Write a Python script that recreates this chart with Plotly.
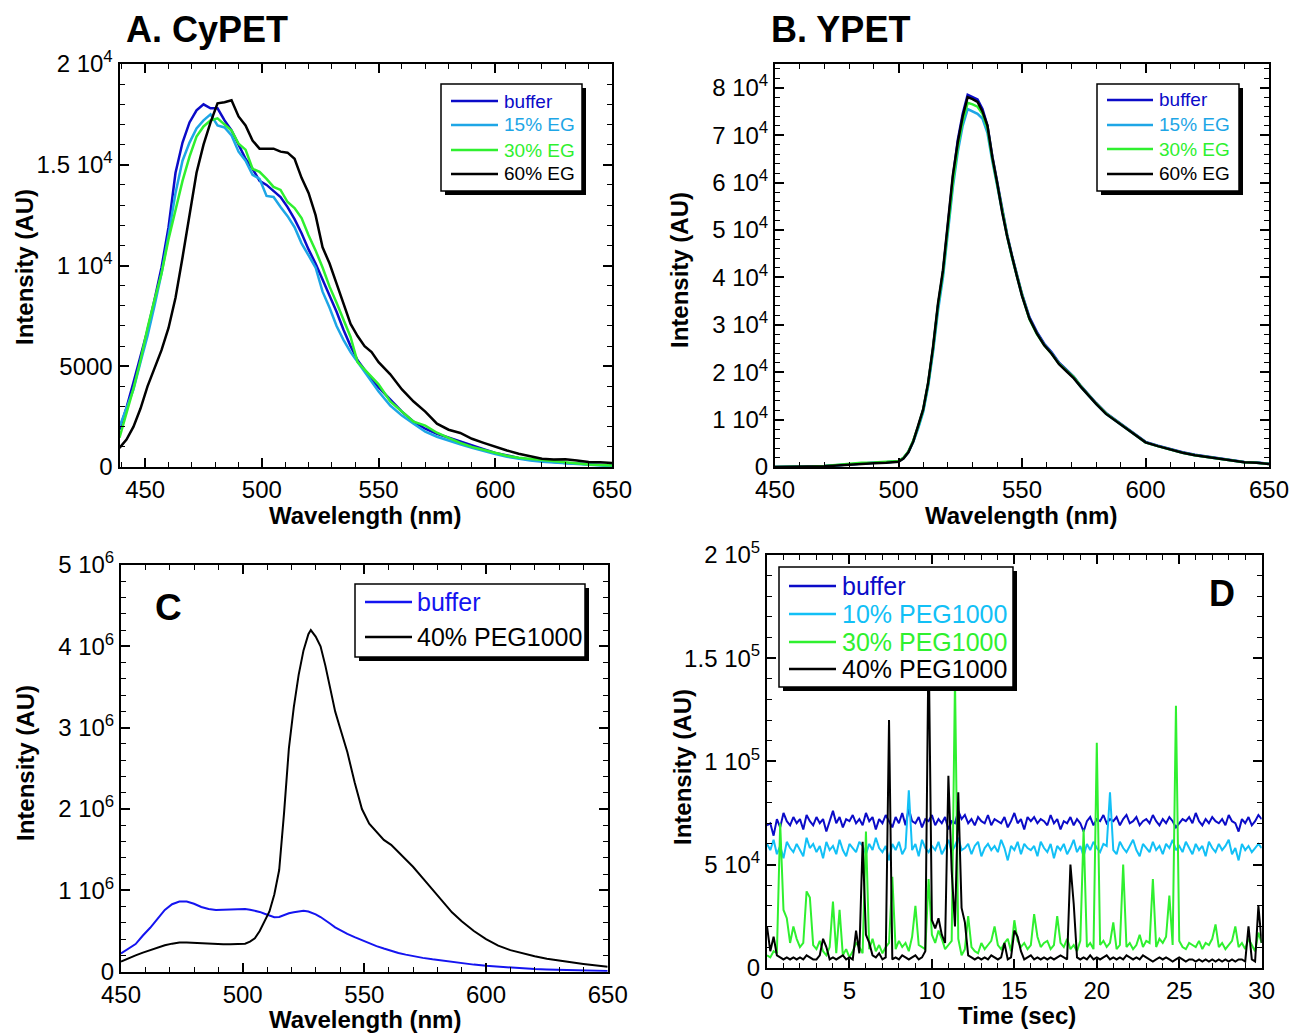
import numpy as np
import plotly.graph_objects as go

# ---------------- data ----------------
# A. CyPET emission spectra
wl_a = [439, 442, 445, 448, 451, 454, 457, 460, 463, 466, 469, 472, 475, 478, 481, 484, 487, 490,
        493, 496, 499, 502, 505, 508, 511, 514, 517, 520, 523, 526, 529, 532, 535, 538, 541, 544,
        547, 550, 555, 560, 565, 570, 575, 580, 585, 590, 595, 600, 605, 610, 615, 620, 625, 630,
        635, 640, 645, 650]
cypet_buffer = [1850, 2950, 4200, 5500, 6800, 8300, 9900, 11900, 14600, 16100, 17100, 17700, 18000,
                17800, 17800, 17200, 16700, 16000, 15300, 14800, 14200, 14000, 13700, 13400, 12900,
                12300, 11600, 10800, 10100, 9300, 8500, 7700, 6800, 6000, 5300, 4800, 4350, 3950,
                3350, 2750, 2250, 1900, 1650, 1450, 1250, 1050, 880, 700, 560, 450, 360, 300, 250,
                200, 170, 130, 100, 70]
cypet_eg15 = [2000, 2950, 3850, 5200, 6500, 8000, 9600, 11500, 13600, 15200, 16100, 16800, 17200,
              17500, 16950, 16850, 16450, 15650, 15200, 14500, 14300, 13450, 13400, 12900, 12450,
              11900, 11100, 10500, 9900, 8700, 7900, 7000, 6300, 5700, 5200, 4700, 4200, 3750,
              3050, 2550, 2150, 1750, 1500, 1300, 1130, 950, 790, 640, 510, 400, 320, 260, 220,
              190, 150, 110, 70, 40]
cypet_eg30 = [1450, 2700, 3900, 5300, 6900, 8300, 9600, 11300, 12800, 14200, 15400, 16400, 16900,
              17200, 17300, 17000, 16700, 16050, 15750, 14800, 14650, 14300, 13900, 13750, 13150,
              12850, 12350, 11500, 10750, 9900, 8950, 8150, 7300, 6450, 5200, 4850, 4450, 4100,
              3250, 2750, 2250, 2050, 1700, 1450, 1200, 1000, 850, 680, 560, 460, 400, 360, 290,
              230, 170, 130, 100, 70]
cypet_eg60 = [950, 1360, 2000, 2900, 4000, 4900, 5800, 6900, 8400, 10400, 12600, 14600, 16000,
              17100, 18050, 18100, 18200, 17400, 16950, 16200, 15800, 15800, 15800, 15650, 15600,
              15300, 14350, 13600, 12500, 10900, 10100, 9100, 8100, 7100, 6500, 6000, 5700, 5200,
              4600, 3850, 3250, 2750, 2150, 1850, 1690, 1400, 1200, 1000, 820, 660, 530, 410, 370,
              380, 320, 250, 230, 200]

# B. YPET emission spectra
wl_b = [450, 455, 460, 465, 470, 475, 480, 485, 490, 495, 500, 502, 504, 506, 508, 510, 512, 514,
        516, 518, 520, 522, 524, 526, 528, 530, 532, 534, 536, 538, 540, 542, 544, 546, 548, 550,
        553, 556, 559, 562, 565, 568, 571, 574, 577, 580, 584, 588, 592, 596, 600, 605, 610, 615,
        620, 625, 630, 635, 640, 645, 650]
ypet_buffer = [0, 0, 50, 100, 200, 400, 600, 850, 900, 1000, 1200, 1900, 3200, 5500, 8500, 12000,
               17500, 25000, 34000, 41000, 51000, 61000, 69000, 74500, 78500, 78000, 77500, 75500,
               72000, 65500, 60000, 54000, 49000, 44500, 40500, 36500, 31600, 28500, 26000, 24200,
               22000, 20500, 19000, 17000, 15200, 13500, 11400, 9900, 8300, 6800, 5300, 4500, 3800,
               3100, 2600, 2200, 1800, 1400, 1050, 950, 700]
ypet_eg15 = [0, 0, 40, 90, 180, 380, 580, 820, 880, 980, 1150, 1850, 3100, 5300, 8200, 11600,
             17000, 24300, 33000, 40000, 49500, 59000, 66500, 72000, 75500, 75000, 74500, 73500,
             70500, 64500, 59300, 53500, 48600, 44100, 40200, 36200, 31300, 28200, 25800, 24000,
             21800, 20300, 18800, 16800, 15000, 13300, 11200, 9700, 8200, 6700, 5200, 4400, 3700,
             3000, 2500, 2100, 1700, 1300, 1000, 900, 650]
ypet_eg30 = [0, 0, 60, 120, 230, 450, 650, 900, 950, 1050, 1250, 1950, 3250, 5600, 8600, 12100,
             17600, 25100, 34100, 41000, 50500, 60000, 67500, 73000, 76800, 76500, 76000, 74500,
             71500, 65000, 59600, 53800, 48700, 44200, 40300, 36300, 31200, 28100, 25700, 23900,
             21800, 20300, 18900, 16900, 15100, 13400, 11300, 9800, 8200, 6700, 5200, 4400, 3700,
             3000, 2500, 2100, 1700, 1300, 1000, 900, 650]
ypet_eg60 = [0, 0, 30, 80, 150, 300, 500, 700, 800, 900, 1100, 1800, 3100, 5400, 8600, 12200,
             17800, 25400, 34500, 41500, 51500, 61500, 68500, 74000, 78000, 77600, 77000, 75000,
             72000, 65300, 59800, 53700, 48600, 44100, 40100, 36100, 31300, 28200, 25700, 23900,
             21700, 20200, 18700, 16800, 15000, 13300, 11200, 9700, 8100, 6600, 5200, 4400, 3700,
             3000, 2500, 2100, 1700, 1300, 1000, 900, 650]

# C. spectra with PEG1000
wl_c = [450, 453, 456, 459, 462, 465, 468, 471, 474, 477, 480, 483, 486, 489, 492, 495, 498, 501,
        503, 505, 507, 509, 511, 513, 515, 517, 519, 521, 523, 525, 527, 528, 530, 532, 534, 536,
        538, 540, 543, 546, 549, 552, 555, 558, 561, 564, 567, 570, 574, 578, 582, 586, 590, 595,
        600, 605, 610, 615, 620, 625, 630, 635, 640, 645, 650]
c_buffer = [225000, 280000, 340000, 445000, 540000, 650000, 760000, 830000, 862000, 862000, 835000,
            795000, 770000, 758000, 760000, 765000, 768000, 770000, 762000, 752000, 735000, 712000,
            690000, 670000, 672000, 700000, 718000, 730000, 740000, 748000, 740000, 730000, 705000,
            672000, 635000, 590000, 545000, 510000, 465000, 425000, 385000, 350000, 315000, 285000,
            255000, 230000, 210000, 190000, 170000, 152000, 135000, 118000, 102000, 87000, 72000,
            60000, 51000, 42000, 33000, 27000, 22000, 17000, 12000, 10000, 8000]
c_peg40 = [123000, 165000, 200000, 235000, 265000, 295000, 325000, 345000, 360000, 360000, 355000,
           345000, 337000, 336000, 336000, 336000, 336000, 345000, 370000, 410000, 500000, 620000,
           740000, 950000, 1250000, 1950000, 2750000, 3250000, 3650000, 3950000, 4150000, 4200000,
           4120000, 4000000, 3760000, 3480000, 3200000, 3000000, 2700000, 2330000, 2000000,
           1820000, 1720000, 1620000, 1560000, 1470000, 1380000, 1290000, 1150000, 1010000,
           860000, 730000, 620000, 500000, 400000, 320000, 265000, 225000, 190000, 160000,
           135000, 115000, 95000, 78000, 60000]

# D. time traces (0.2 s steps, values in 10^3 AU)
time_d = np.round(np.arange(0, 30.01, 0.2), 1)
d_buffer_k = [69, 70, 64, 72, 68, 75, 71, 69, 73, 70,
              72, 67, 74, 71, 69, 73, 70, 72, 66, 71,
              76, 70, 73, 68, 72, 71, 74, 70, 72, 69,
              75, 71, 73, 67, 72, 70, 74, 71, 68, 73,
              70, 75, 69, 77, 71, 70, 73, 68, 72, 71,
              74, 69, 72, 70, 73, 67, 71, 70, 76, 72,
              74, 70, 72, 69, 73, 71, 70, 74, 69, 72,
              71, 70, 73, 68, 71, 75, 70, 72, 67, 73,
              71, 73, 70, 72, 71, 69, 74, 70, 72, 67,
              71, 70, 73, 69, 72, 70, 66, 71, 73, 69,
              72, 71, 74, 70, 72, 71, 73, 69, 72, 74,
              70, 71, 73, 69, 71, 72, 70, 74, 71, 69,
              72, 70, 73, 71, 68, 70, 72, 71, 73, 70,
              75, 71, 69, 72, 70, 73, 71, 70, 72, 69,
              74, 71, 70, 66, 72, 70, 73, 69, 71, 74,
              72]
d_peg10_k = [60, 57, 62, 55, 59, 53, 61, 58, 56, 60,
             57, 54, 63, 58, 60, 56, 59, 53, 61, 57,
             59, 55, 62, 57, 54, 60, 58, 56, 61, 59,
             55, 60, 57, 63, 58, 56, 59, 52, 60, 57,
             61, 55, 58, 86, 57, 60, 54, 62, 58, 56,
             59, 57, 61, 55, 58, 62, 56, 59, 63, 57,
             58, 60, 55, 59, 61, 54, 58, 60, 57, 59,
             56, 62, 58, 52, 59, 57, 61, 55, 60, 58,
             57, 59, 54, 61, 58, 56, 60, 53, 59, 57,
             60, 55, 58, 62, 56, 59, 54, 60, 57, 61,
             58, 56, 60, 59, 85, 57, 55, 61, 58, 56,
             59, 62, 57, 54, 60, 58, 56, 61, 57, 59,
             55, 60, 58, 62, 57, 59, 56, 61, 58, 55,
             60, 57, 59, 54, 61, 58, 56, 60, 57, 59,
             62, 55, 58, 52, 60, 57, 59, 56, 58, 60,
             58]
d_peg30_k = [6, 5, 8, 7, 70, 28, 24, 12, 20, 14,
             10, 12, 37, 34, 11, 9, 13, 8, 6, 10,
             32, 7, 28, 6, 9, 5, 8, 12, 10, 7,
             66, 9, 14, 8, 11, 7, 10, 12, 44, 9,
             13, 10, 12, 8, 15, 30, 11, 10, 9, 43,
             16, 12, 18, 14, 9, 11, 13, 140, 14, 6,
             9, 25, 10, 8, 7, 12, 9, 11, 13, 20,
             11, 9, 12, 14, 8, 23, 13, 10, 12, 9,
             11, 26, 15, 10, 12, 13, 9, 11, 25, 12,
             10, 14, 9, 11, 8, 13, 67, 10, 12, 9,
             109, 11, 13, 10, 12, 22, 9, 11, 50, 10,
             12, 9, 11, 16, 10, 13, 12, 43, 10, 14,
             12, 15, 35, 11, 127, 13, 10, 9, 12, 11,
             10, 13, 9, 12, 11, 14, 21, 10, 12, 9,
             11, 13, 20, 10, 12, 9, 14, 11, 8, 17,
             12]
d_peg40_k = [20, 8, 15, 6, 5, 4, 5, 4, 5, 4,
             5, 4, 6, 5, 4, 4, 6, 14, 10, 4,
             5, 4, 5, 6, 4, 5, 4, 18, 7, 61,
             16, 12, 6, 5, 7, 4, 5, 120, 4, 5,
             4, 6, 5, 4, 5, 6, 4, 5, 8, 160,
             23, 19, 24, 16, 12, 93, 47, 20, 85, 29,
             22, 6, 5, 4, 5, 4, 5, 4, 6, 5,
             4, 5, 12, 4, 5, 18, 15, 8, 4, 5,
             6, 4, 5, 4, 5, 4, 5, 4, 5, 6,
             5, 4, 50, 31, 5, 4, 5, 4, 6, 4,
             5, 4, 5, 6, 4, 5, 4, 5, 4, 6,
             5, 4, 5, 4, 6, 5, 4, 3, 4, 5,
             4, 5, 4, 3, 4, 5, 4, 3, 4, 4,
             3, 4, 3, 4, 3, 4, 3, 4, 3, 4,
             3, 4, 3, 4, 4, 3, 20, 4, 3, 30,
             12]

names_ab = ["buffer", "15% EG", "30% EG", "60% EG"]
names_c = ["buffer", "40% PEG1000"]
names_d = ["buffer", "10% PEG1000", "30% PEG1000", "40% PEG1000"]

# ---------------- style ----------------
W, H = 1291, 1034
FONT = "Liberation Sans, Arial, sans-serif"
DARKBLUE = "#0b0bc8"
SKY = "#1ea6e6"
SKY_D = "#12c0f6"
GREEN = "#2ff02f"
BLUE_C = "#1414f0"
BLACK = "#000000"


def px(x):
    return x / W


def py(y):
    return 1 - y / H


def sup(base, exp):
    return f"{base} 10<sup>{exp}</sup>"


def xax(dom, rng, tick0, dtick, minor):
    return dict(domain=[px(dom[0]), px(dom[1])], range=rng, tick0=tick0, automargin=False,
                dtick=dtick, ticks="inside", ticklen=9, tickwidth=1.5, tickcolor="black",
                showline=True, linewidth=2, linecolor="black", mirror="ticks", showgrid=False,
                zeroline=False, tickfont=dict(size=24, color="black", family=FONT),
                minor=dict(ticks="inside", ticklen=5, tickwidth=1.3, tickcolor="black", dtick=minor, showgrid=False))


def yax(dom, rng, vals, texts, minor):
    return dict(domain=[py(dom[0]), py(dom[1])], range=rng, tickvals=vals, ticktext=texts, automargin=False,
                ticks="inside", ticklen=9, tickwidth=1.5, tickcolor="black",
                showline=True, linewidth=2, linecolor="black", mirror="ticks", showgrid=False,
                zeroline=False, tickfont=dict(size=24, color="black", family=FONT),
                minor=dict(ticks="inside", ticklen=5, tickwidth=1.3, tickcolor="black", dtick=minor, showgrid=False))


fig = go.Figure()

for y, c in zip([cypet_buffer, cypet_eg15, cypet_eg30, cypet_eg60], [DARKBLUE, SKY, GREEN, BLACK]):
    fig.add_trace(go.Scatter(x=wl_a, y=y, mode="lines", line=dict(color=c, width=2.5), xaxis="x", yaxis="y"))
for y, c in zip([ypet_buffer, ypet_eg15, ypet_eg30, ypet_eg60], [DARKBLUE, SKY, GREEN, BLACK]):
    fig.add_trace(go.Scatter(x=wl_b, y=y, mode="lines", line=dict(color=c, width=2.5), xaxis="x2", yaxis="y2"))
for y, c in zip([c_buffer, c_peg40], [BLUE_C, BLACK]):
    fig.add_trace(go.Scatter(x=wl_c, y=y, mode="lines", line=dict(color=c, width=2), xaxis="x3", yaxis="y3"))
for y, c in zip([d_buffer_k, d_peg10_k, d_peg30_k, d_peg40_k], [DARKBLUE, SKY_D, GREEN, BLACK]):
    fig.add_trace(go.Scatter(x=time_d, y=np.array(y) * 1000, mode="lines", line=dict(color=c, width=2),
                             xaxis="x4", yaxis="y4"))

shapes = []
annotations = []


def legend(box, names, colors, line_x, line_ys, text_x, size):
    x0, y0, x1, y1 = box
    shapes.append(dict(type="rect", xref="paper", yref="paper", x0=px(x0 + 4), x1=px(x1 + 4),
                       y0=py(y1 + 4), y1=py(y0 + 4), fillcolor="black", line=dict(width=0)))
    shapes.append(dict(type="rect", xref="paper", yref="paper", x0=px(x0), x1=px(x1),
                       y0=py(y1), y1=py(y0), fillcolor="white", line=dict(color="black", width=1.5)))
    for n, c, ly in zip(names, colors, line_ys):
        shapes.append(dict(type="line", xref="paper", yref="paper", x0=px(line_x[0]), x1=px(line_x[1]),
                           y0=py(ly), y1=py(ly), line=dict(color=c, width=2.5)))
        annotations.append(dict(text=n, x=px(text_x), y=py(ly), xref="paper", yref="paper",
                                xanchor="left", yanchor="middle", showarrow=False,
                                font=dict(size=size, color=c, family=FONT)))


legend((441, 84, 582, 191), names_ab, [DARKBLUE, SKY, GREEN, BLACK], (451, 498), [101, 125, 150, 174], 502, 19)
legend((1097, 84, 1239, 191), names_ab, [DARKBLUE, SKY, GREEN, BLACK], (1107, 1153), [100, 125, 149, 174], 1157, 19)
legend((355, 584, 585, 657), names_c, [BLUE_C, BLACK], (365, 412), [602, 637], 415, 25)
legend((779, 567, 1013, 687), names_d, [DARKBLUE, SKY_D, GREEN, BLACK], (789, 836), [586, 614, 642, 669], 840, 25)


def text(t, x, y, size, angle=0, anchor="center"):
    annotations.append(dict(text=t, x=px(x), y=py(y), xref="paper", yref="paper", xanchor=anchor,
                            yanchor="middle", showarrow=False, textangle=angle,
                            font=dict(size=size, color="black", family=FONT)))


text("<b>A. CyPET</b>", 124, 29, 36, anchor="left")
text("<b>B. YPET</b>", 769, 29, 36, anchor="left")
text("<b>C</b>", 168, 607, 37)
text("<b>D</b>", 1222, 593, 36)
text("<b>Wavelength (nm)</b>", 365, 515, 24)
text("<b>Wavelength (nm)</b>", 1021, 515, 24)
text("<b>Wavelength (nm)</b>", 365, 1019, 24)
text("<b>Time (sec)</b>", 1017, 1016, 24)
text("<b>Intensity (AU)</b>", 24, 267, 24, angle=-90)
text("<b>Intensity (AU)</b>", 680, 270, 24, angle=-90)
text("<b>Intensity (AU)</b>", 25, 763, 24, angle=-90)
text("<b>Intensity (AU)</b>", 682, 767, 24, angle=-90)

fig.update_layout(
    width=W, height=H, showlegend=False,
    paper_bgcolor="white", plot_bgcolor="white",
    margin=dict(l=0, r=0, t=0, b=0, autoexpand=False),
    font=dict(family=FONT, color="black"),
    xaxis=dict(xax((119.5, 612), [439, 650], 450, 50, 10), anchor="y"),
    yaxis=dict(yax((467, 64), [0, 20000], [0, 5000, 10000, 15000, 20000],
                   ["0", "5000", sup(1, 4), sup(1.5, 4), sup(2, 4)], 1000), anchor="x"),
    xaxis2=dict(xax((775, 1269), [450, 650], 450, 50, 10), anchor="y2"),
    yaxis2=dict(yax((467, 64), [0, 85000], [i * 10000 for i in range(9)],
                    ["0"] + [sup(i, 4) for i in range(1, 9)], 2000), anchor="x2"),
    xaxis3=dict(xax((121, 607.7), [450, 650], 450, 50, 10), anchor="y3"),
    yaxis3=dict(yax((971.7, 565), [0, 5e6], [0, 1e6, 2e6, 3e6, 4e6, 5e6],
                    ["0"] + [sup(i, 6) for i in range(1, 6)], 2e5), anchor="x3"),
    xaxis4=dict(xax((767, 1261.7), [0, 30], 0, 5, 1), anchor="y4"),
    yaxis4=dict(yax((967.7, 555), [0, 2e5], [0, 5e4, 1e5, 1.5e5, 2e5],
                    ["0", sup(5, 4), sup(1, 5), sup(1.5, 5), sup(2, 5)], 1e4), anchor="x4"),
    shapes=shapes,
    annotations=annotations,
)

# the page's default body margin would push the figure 8 px off the window
fig.write_html("out.html", config={"displayModeBar": False},
               post_script="document.body.style.margin='0px';document.body.style.overflow='hidden';")
